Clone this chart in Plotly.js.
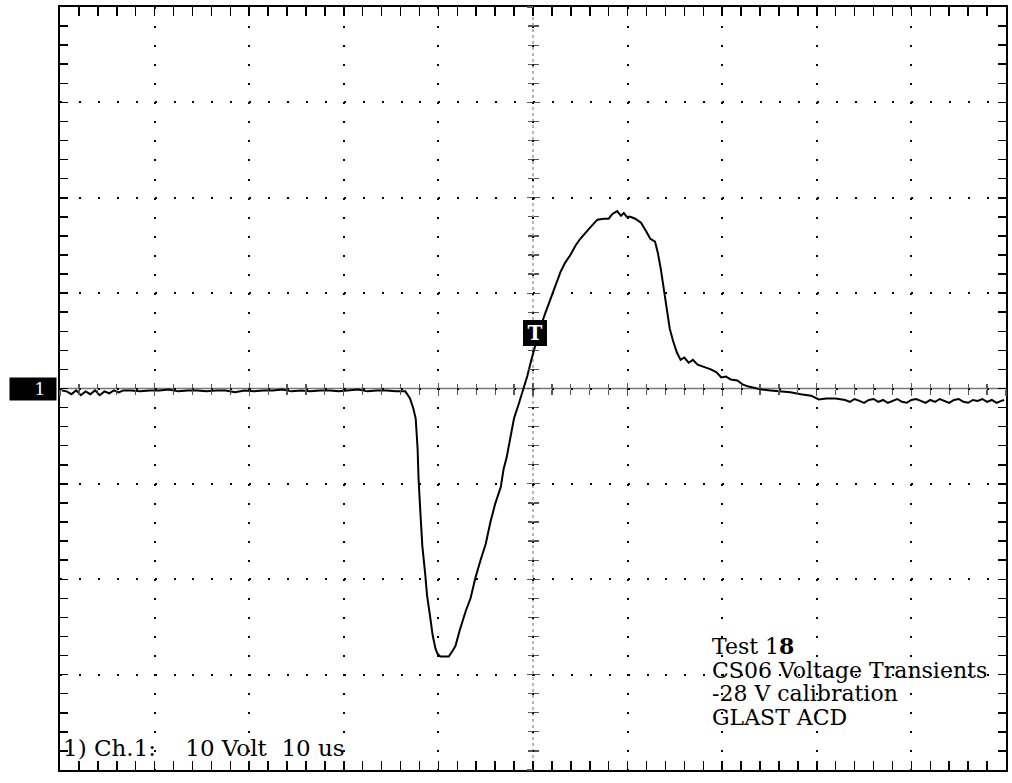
<!DOCTYPE html>
<html>
<head>
<meta charset="utf-8">
<script src="https://cdn.plot.ly/plotly-3.0.1.min.js"></script>
<style>
html,body{margin:0;padding:0;background:#fff;}
#chart{width:1012px;height:783px;}
</style>
</head>
<body>
<div id="chart"></div>
<script>
// Time in microseconds (10 us/div), voltage in volts (10 V/div)
var baselineT = [-49.8,-49.3,-48.8,-48.3,-47.8,-47.3,-46.8,-46.3,-45.8,-45.3,-44.8,-44.3,-43.8,-43.3,
  -42.5,-41.5,-40.5,-39.5,-38.5,-37.5,-36.5,-35.5,-34.5,-33.5,-32.5,-31.5,-30.5,-29.5,-28.5,-27.5,
  -26.5,-25.5,-24.5,-23.5,-22.5,-21.5,-20.5,-19.5,-18.5,-17.5,-16.5,-15.5,-14.5];
var baselineV = [-0.2,-0.3,-0.6,-0.2,-0.7,-0.3,-0.6,-0.2,-0.7,-0.3,-0.5,-0.2,-0.4,-0.2,
  -0.2,-0.3,-0.2,-0.2,-0.1,-0.3,-0.2,-0.2,-0.3,-0.2,-0.2,-0.4,-0.2,-0.3,-0.2,-0.2,
  -0.1,-0.3,-0.2,-0.3,-0.2,-0.2,-0.3,-0.2,-0.1,-0.3,-0.2,-0.2,-0.3];

var pulseT = [-13.5,-13.0,-12.65,-12.4,-12.2,-12.1,-11.9,-11.7,-11.4,-11.2,-10.85,-10.6,-10.3,-10.1,-9.8,
  -8.9,-8.5,-8.2,-7.7,-7.1,-6.6,-6.1,-5.55,-5.0,-4.5,-4.0,-3.4,-3.1,-2.8,-2.4,-2.0,-1.5,-1.1,-0.6,-0.2,
  0.3,0.8,1.3,1.85,2.4,2.9,3.4,3.95,4.5,5.0,5.8,6.4,6.8,7.5,8.0,8.4,8.9,9.3,9.6,9.9,10.3,10.8,11.4,11.9,
  12.4,12.9,13.2,13.5,13.8,14.1,14.45,14.8,15.2,15.6,16.0,16.45,16.9,17.4,18.0,18.8,19.4,19.9,20.4,20.9,
  21.6,22.2,22.8,23.5,24.1,25.1,26.2,27.2,28.3,29.4,30.2,31.0,32.0];
var pulseV = [-0.3,-1.05,-2.1,-3.15,-6.3,-9.4,-13.1,-16.5,-19.4,-21.7,-24.1,-25.9,-27.3,-27.8,-28.1,
  -28.1,-27.5,-27.0,-25.2,-23.3,-22.0,-19.9,-18.0,-16.3,-14.0,-12.1,-10.3,-8.4,-7.3,-5.2,-3.1,-1.6,-0.3,1.3,2.9,
  4.7,6.5,7.9,9.4,10.7,12.2,13.2,14.0,15.0,15.7,16.6,17.2,17.7,17.8,17.8,18.3,18.6,18.1,18.4,18.0,18.0,17.8,17.4,16.6,
  15.7,15.4,14.2,12.6,10.5,8.4,6.3,5.0,3.8,3.0,3.25,2.7,3.0,2.5,2.3,2.0,1.7,1.15,1.25,0.95,
  0.85,0.4,0.2,0.0,-0.1,-0.2,-0.3,-0.4,-0.6,-0.75,-1.15,-1.05,-1.05];

var tailT = [32.5,33,33.5,34,34.5,35,35.5,36,36.5,37,37.5,38,38.5,39,39.5,40,40.5,41,41.5,42,
  42.5,43,43.5,44,44.5,45,45.5,46,46.5,47,47.5,48,48.5,49,49.5,49.8];
var tailV = [-1.1,-1.2,-1.4,-1.1,-1.3,-1.5,-1.2,-1.1,-1.4,-1.2,-1.5,-1.3,-1.1,-1.4,-1.5,-1.2,-1.1,-1.3,-1.5,-1.2,
  -1.4,-1.1,-1.3,-1.5,-1.2,-1.1,-1.4,-1.5,-1.2,-1.3,-1.1,-1.4,-1.2,-1.5,-1.3,-1.2];

var triggerT = 0.2, triggerV = 5.8;
var channelLabel = "1";
var scaleLabel = "1) Ch.1:    10 Volt  10 us";
var noteLines = ["Test 1<b>8</b>", "CS06 Voltage Transients", "-28 V calibration", "GLAST ACD"];

var timeUs = baselineT.concat(pulseT, tailT);
var volts = baselineV.concat(pulseV, tailV);

var serif = "DejaVu Serif, Liberation Serif, serif";

var traces = [
  {x: timeUs, y: volts, type: 'scatter', mode: 'lines',
   line: {color: '#000', width: 2}, hoverinfo: 'skip', showlegend: false},
  {x: [], y: [], xaxis: 'x2', yaxis: 'y', type: 'scatter', showlegend: false},
  {x: [], y: [], xaxis: 'x3', yaxis: 'y', type: 'scatter', showlegend: false},
  {x: [], y: [], xaxis: 'x', yaxis: 'y2', type: 'scatter', showlegend: false},
  {x: [], y: [], xaxis: 'x', yaxis: 'y3', type: 'scatter', showlegend: false}
];

var centerTick = function(dir, over){
  return {overlaying: over, anchor: 'free', position: 0.5, range: over === 'x' ? [-50,50] : [-40,40],
    dtick: 10, tick0: 0, ticks: dir, ticklen: 6, tickwidth: 1.2, tickcolor: '#555',
    minor: {dtick: 2, ticks: dir, ticklen: 5, tickwidth: 1.2, tickcolor: '#555'},
    showgrid: false, zeroline: false, showline: false, showticklabels: false};
};

var noteY = [0.162, 0.131, 0.100, 0.069];

var layout = {
  width: 1012, height: 783,
  margin: {l: 60, r: 6, t: 7, b: 13},
  paper_bgcolor: '#fff', plot_bgcolor: '#fff',
  showlegend: false,
  xaxis: {range: [-50, 50], dtick: 10, tick0: 0, showgrid: true, gridcolor: '#000', gridwidth: 2,
    griddash: '2px,17.06px', zeroline: false, showline: true, linecolor: '#000', linewidth: 2,
    mirror: 'allticks', ticks: 'inside', ticklen: 9, tickwidth: 1.5, tickcolor: '#000',
    showticklabels: false,
    minor: {dtick: 2, ticks: 'inside', ticklen: 8, tickwidth: 1.5, tickcolor: '#000', showgrid: false}},
  yaxis: {range: [-40, 40], dtick: 10, tick0: 0, showgrid: true, gridcolor: '#000', gridwidth: 2,
    griddash: '2px,16.92px', zeroline: false, showline: true, linecolor: '#000', linewidth: 2,
    mirror: 'allticks', ticks: 'inside', ticklen: 8, tickwidth: 1.5, tickcolor: '#000',
    showticklabels: false,
    minor: {dtick: 2, ticks: 'inside', ticklen: 7, tickwidth: 1.5, tickcolor: '#000', showgrid: false}},
  xaxis2: centerTick('inside', 'x'),
  xaxis3: centerTick('outside', 'x'),
  yaxis2: centerTick('inside', 'y'),
  yaxis3: centerTick('outside', 'y'),
  shapes: [
    {type: 'line', xref: 'paper', yref: 'y', x0: 0, x1: 1, y0: 0, y1: 0,
     line: {color: '#777', width: 1.5}, layer: 'below'},
    {type: 'line', xref: 'x', yref: 'paper', x0: 0, x1: 0, y0: 0, y1: 1,
     line: {color: '#888', width: 1.2, dash: 'dot'}, layer: 'below'}
  ],
  annotations: [
    {xref: 'paper', yref: 'y', x: -0.003, y: 0, xanchor: 'right', yanchor: 'middle',
     text: channelLabel + '&nbsp;&nbsp;', showarrow: false, bgcolor: '#000', width: 46, height: 22, align: 'right',
     borderpad: 0, font: {family: serif, size: 17, color: '#fff'}},
    {xref: 'x', yref: 'y', x: triggerT, y: triggerV, xanchor: 'center', yanchor: 'middle',
     text: '<b>T</b>', showarrow: false, bgcolor: '#000', width: 20, height: 22,
     bordercolor: '#000', borderwidth: 1, borderpad: 1,
     font: {family: serif, size: 20, color: '#fff'}},
    {xref: 'paper', yref: 'paper', x: 0.002, y: 0.029, xanchor: 'left', yanchor: 'middle',
     text: scaleLabel, showarrow: false, borderpad: 0, font: {family: serif, size: 23, color: '#000'}}
  ].concat(noteLines.map(function(t, i){
    return {xref: 'paper', yref: 'paper', x: 0.688, y: noteY[i], xanchor: 'left', yanchor: 'middle',
      text: t, showarrow: false, borderpad: 0, font: {family: serif, size: 22, color: '#000'}};
  }))
};

Plotly.newPlot('chart', traces, layout, {displayModeBar: false, staticPlot: true});
</script>
</body>
</html>
